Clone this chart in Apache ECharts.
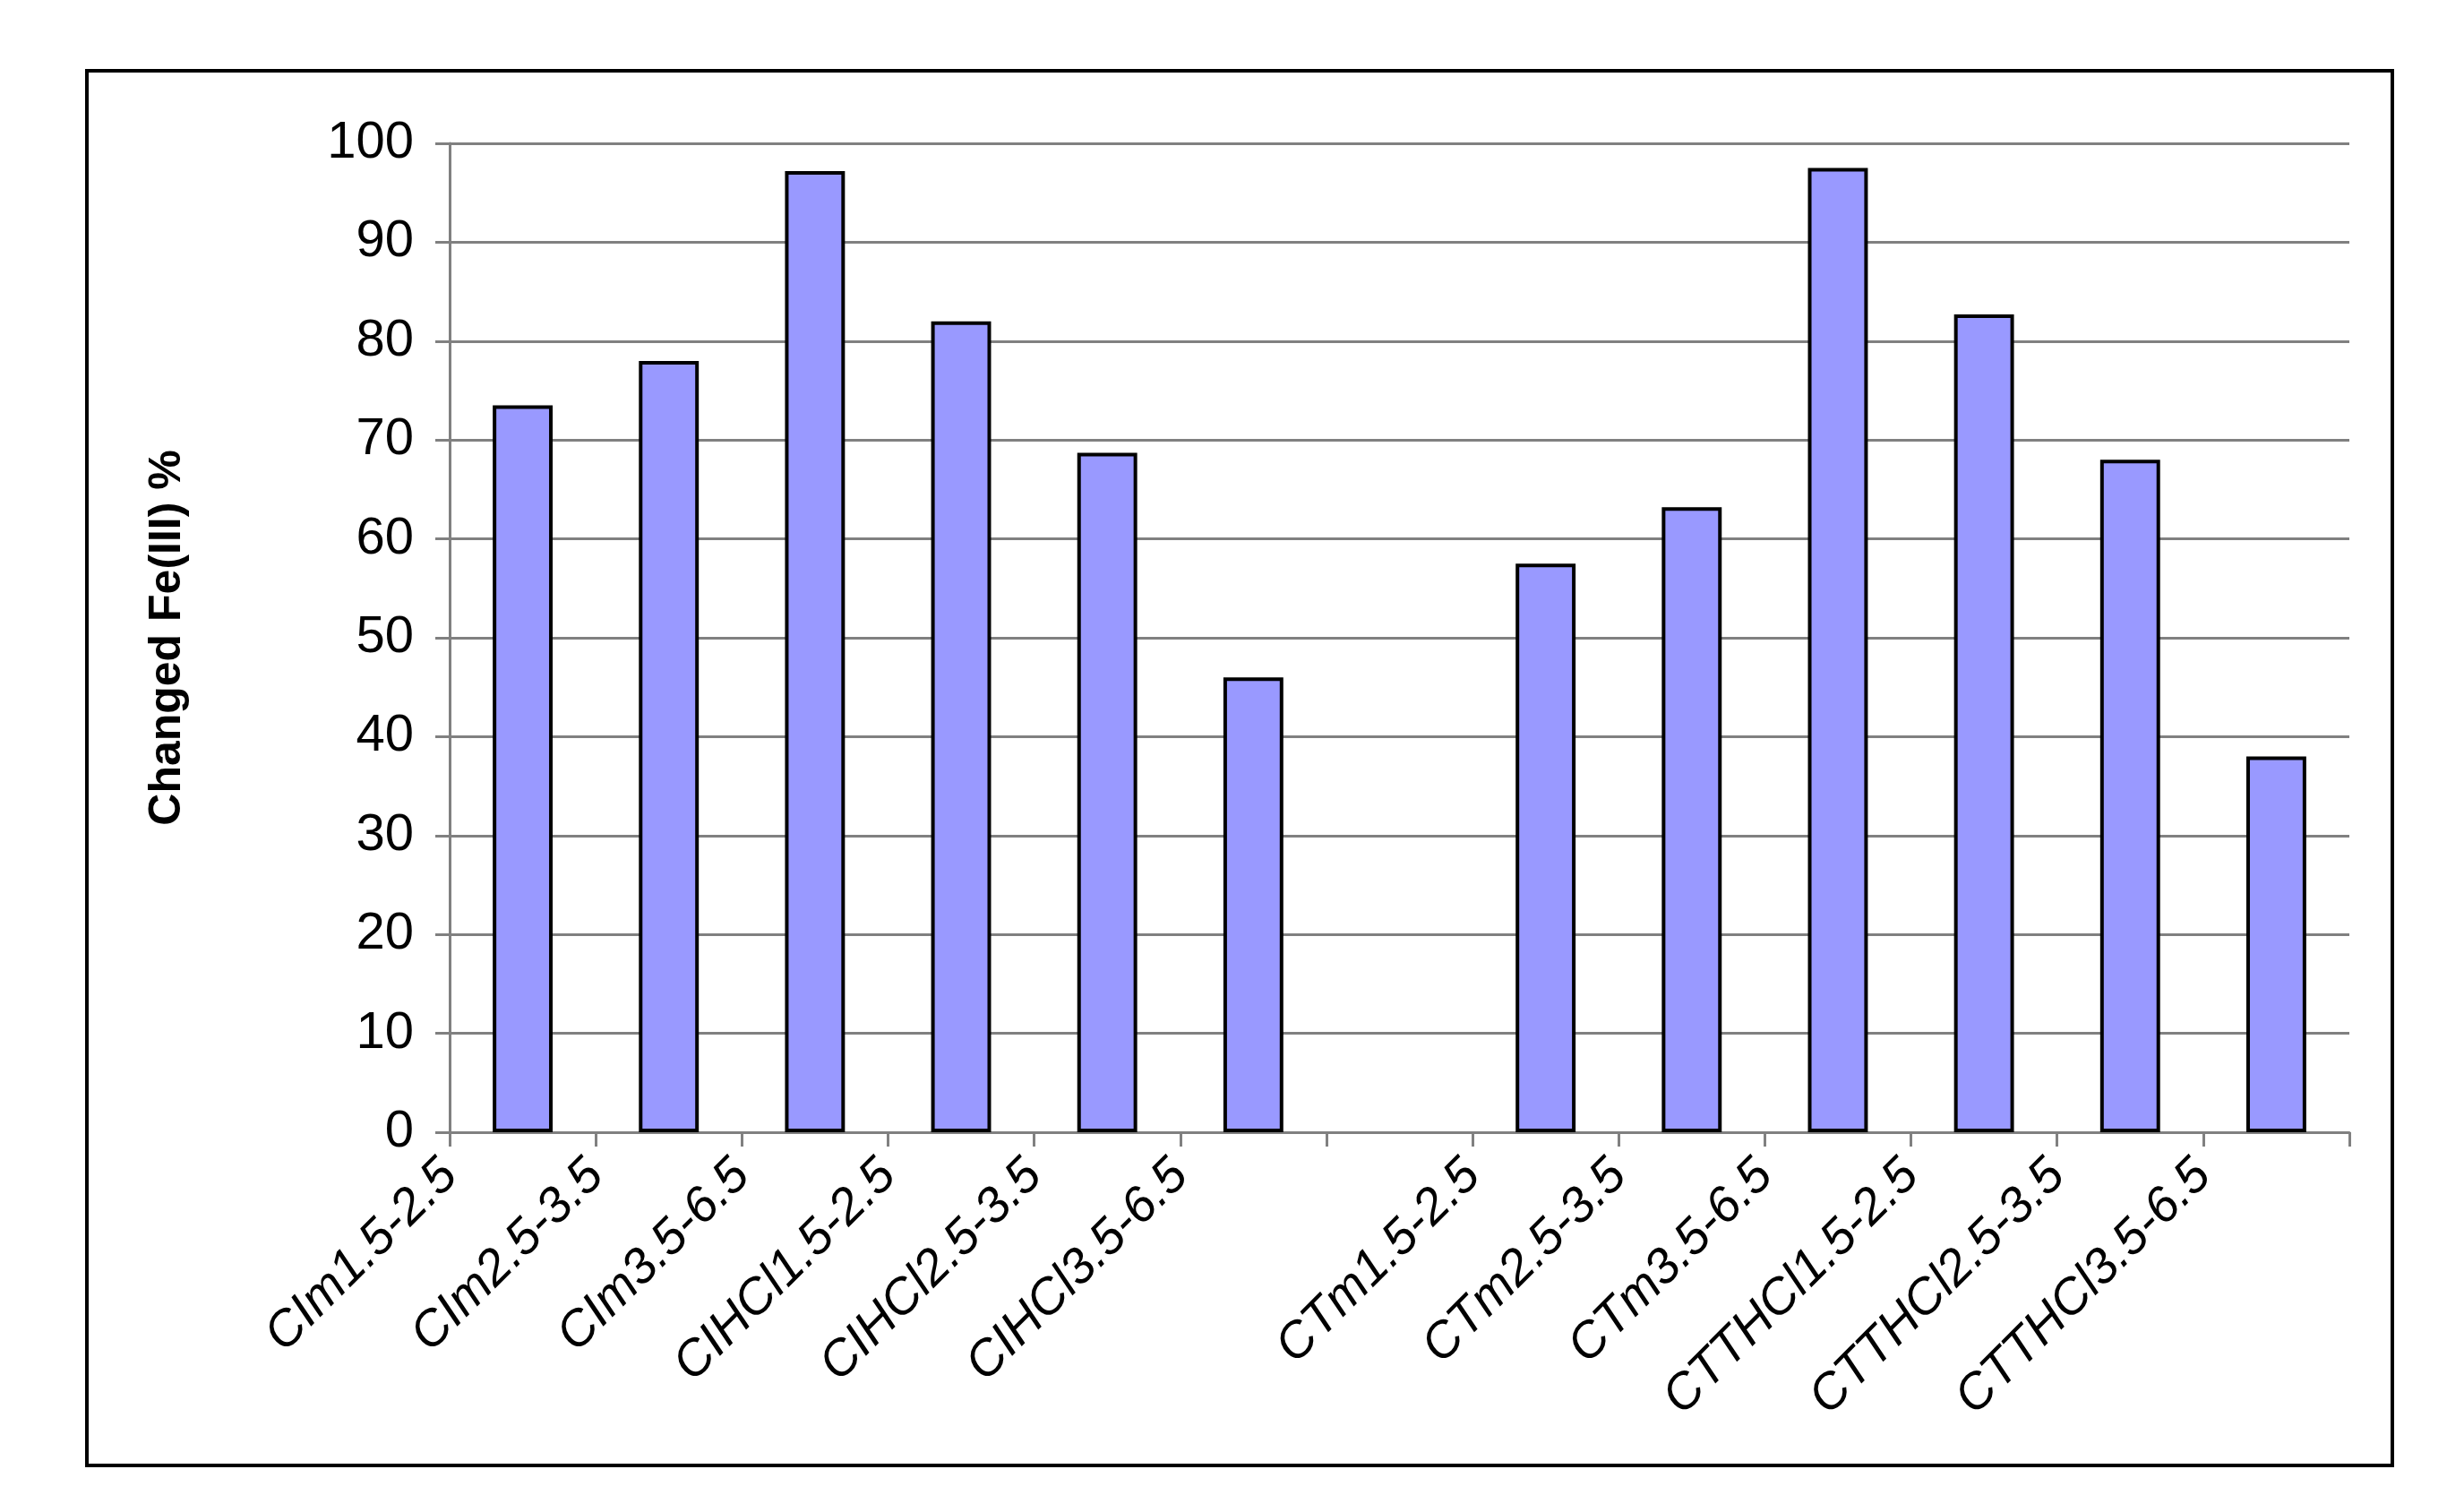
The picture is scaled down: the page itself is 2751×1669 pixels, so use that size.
<!DOCTYPE html>
<html><head><meta charset="utf-8">
<script src="https://cdn.jsdelivr.net/npm/echarts@6/dist/echarts.min.js"></script>
<style>html,body{margin:0;padding:0;background:#fff}#c{width:2751px;height:1669px}</style>
</head><body><div id="c"></div>
<script>
const categories = ['CIm1.5-2.5','CIm2.5-3.5','CIm3.5-6.5','CIHCl1.5-2.5','CIHCl2.5-3.5','CIHCl3.5-6.5','gap','CTm1.5-2.5','CTm2.5-3.5','CTm3.5-6.5','CTTHCl1.5-2.5','CTTHCl2.5-3.5','CTTHCl3.5-6.5'];
const tickLabels = ['CIm1.5-2.5','CIm2.5-3.5','CIm3.5-6.5','CIHCl1.5-2.5','CIHCl2.5-3.5','CIHCl3.5-6.5','','CTm1.5-2.5','CTm2.5-3.5','CTm3.5-6.5','CTTHCl1.5-2.5','CTTHCl2.5-3.5','CTTHCl3.5-6.5',''];
const values = [73.5,78,97.2,82,68.7,46,null,57.5,63.2,97.5,82.7,68,38];
const yTicks = {min:0,max:100,interval:10};
const chart = echarts.init(document.getElementById('c'));
chart.setOption({
  animation:false,
  graphic:[{type:'rect',shape:{x:97,y:79,width:2574,height:1557},style:{fill:'none',stroke:'#000',lineWidth:4}}],
  grid:{left:502,right:128,top:160,bottom:405},
  xAxis:[
    {type:'category',data:categories,boundaryGap:true,axisLine:{show:false},axisTick:{show:false},axisLabel:{show:false}},
    {type:'category',data:tickLabels,boundaryGap:false,position:'bottom',
     axisLine:{show:true,lineStyle:{color:'#808080',width:3}},
     axisTick:{show:true,length:16,lineStyle:{color:'#808080',width:3}},
     axisLabel:{interval:0,rotate:45,margin:40,fontFamily:'Liberation Sans',fontStyle:'italic',fontSize:56,color:'#000'}}
  ],
  yAxis:{type:'value',min:yTicks.min,max:yTicks.max,interval:yTicks.interval,
    name:'Changed Fe(III) %',nameLocation:'middle',nameGap:290,nameRotate:90,
    nameTextStyle:{fontFamily:'Liberation Sans',fontWeight:'bold',fontSize:50,color:'#000'},
    axisLine:{show:true,lineStyle:{color:'#808080',width:3}},
    axisTick:{show:true,length:16,lineStyle:{color:'#808080',width:3}},
    axisLabel:{fontFamily:'Liberation Sans',fontSize:58,color:'#000',margin:40},
    splitLine:{lineStyle:{color:'#808080',width:3}}},
  series:[{type:'bar',xAxisIndex:0,data:values,barWidth:'41%',
    itemStyle:{color:'#9999FF',borderColor:'#000',borderWidth:4}}]
});
</script></body></html>
